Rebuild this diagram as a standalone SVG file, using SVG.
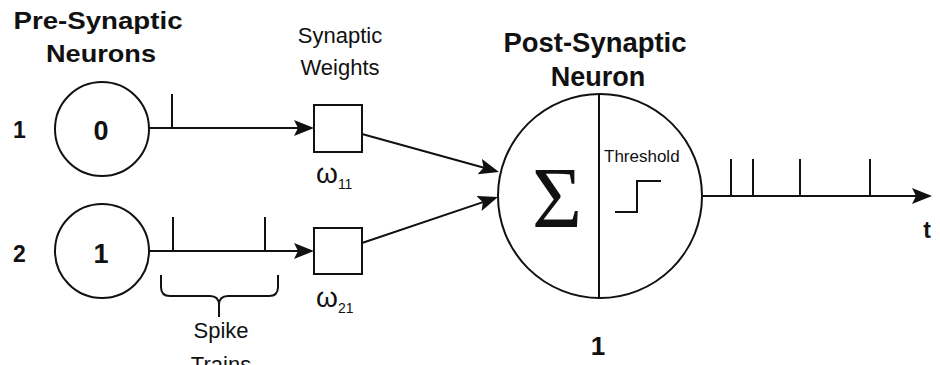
<svg xmlns="http://www.w3.org/2000/svg" width="940" height="365" viewBox="0 0 940 365">
<style>
.s{fill:none;stroke:#111;stroke-width:2}
.n{fill:#fff;stroke:#111;stroke-width:2}
.b{font-family:"Liberation Sans",Arial,sans-serif;font-weight:bold;fill:#111}
.r{font-family:"Liberation Sans",Arial,sans-serif;fill:#111}
.m{text-anchor:middle}
.sig{font-family:"Liberation Serif","Times New Roman","DejaVu Serif",serif;font-weight:normal;fill:#111;text-anchor:middle}
</style>
<defs>
<marker id="arr" markerUnits="userSpaceOnUse" markerWidth="22" markerHeight="18" refX="12" refY="8" orient="auto" viewBox="0 0 22 18">
<path d="M0,0 L20,8 L0,16 L4,8 Z" fill="#111"/>
</marker>
</defs>
<rect width="940" height="365" fill="#fff"/>

<g id="titles">
<text class="b m" x="98" y="29" font-size="24" textLength="169" lengthAdjust="spacingAndGlyphs">Pre-Synaptic</text>
<text class="b m" x="101" y="62" font-size="24" textLength="110" lengthAdjust="spacingAndGlyphs">Neurons</text>
<text class="r m" x="340" y="43" font-size="22">Synaptic</text>
<text class="r m" x="340" y="75" font-size="22">Weights</text>
<text class="b m" x="595" y="52" font-size="27" textLength="183" lengthAdjust="spacingAndGlyphs">Post-Synaptic</text>
<text class="b m" x="598" y="86" font-size="27">Neuron</text>
</g>

<g id="pre1">
<text class="b" x="13" y="138" font-size="23">1</text>
<circle class="n" cx="102" cy="129" r="47"/>
<text class="b m" x="101" y="140" font-size="27">0</text>
</g>

<g id="pre2">
<text class="b" x="13" y="262" font-size="23">2</text>
<circle class="n" cx="102" cy="251" r="47"/>
<text class="b m" x="101" y="263" font-size="27">1</text>
</g>

<g id="w11">
<rect class="n" x="314" y="105" width="48" height="47"/>
<text class="r" x="316" y="183" font-size="28">ω<tspan font-size="14" dy="6">11</tspan></text>
</g>

<g id="w21">
<rect class="n" x="314" y="228" width="48" height="46"/>
<text class="r" x="316" y="307" font-size="28">ω<tspan font-size="14" dy="6">21</tspan></text>
</g>

<g id="post">
<circle class="n" cx="600" cy="196" r="102"/>
<line class="s" x1="599" y1="94" x2="599" y2="298"/>
<text class="sig" x="557" y="227" font-size="86">Σ</text>
<text class="r" x="604" y="162" font-size="17">Threshold</text>
<path class="s" d="M615,212 H637 V181 H661"/>
<text class="b m" x="598" y="355" font-size="26">1</text>
</g>

<g id="connectors">
<line class="s" x1="149" y1="128" x2="306" y2="128" marker-end="url(#arr)"/>
<line class="s" x1="172" y1="94" x2="172" y2="128"/>
<line class="s" x1="149" y1="251" x2="306" y2="251" marker-end="url(#arr)"/>
<line class="s" x1="173" y1="217" x2="173" y2="251"/>
<line class="s" x1="265" y1="217" x2="265" y2="251"/>
<line class="s" x1="362" y1="134" x2="491.3" y2="169.8" marker-end="url(#arr)"/>
<line class="s" x1="362" y1="243" x2="490.4" y2="199.6" marker-end="url(#arr)"/>
<line class="s" x1="702" y1="196" x2="924" y2="196" marker-end="url(#arr)"/>
<line class="s" x1="731" y1="159" x2="731" y2="196"/>
<line class="s" x1="753" y1="159" x2="753" y2="196"/>
<line class="s" x1="800" y1="159" x2="800" y2="196"/>
<line class="s" x1="870" y1="159" x2="870" y2="196"/>
</g>

<g id="brace">
<path class="s" d="M161,275 V287 Q161,296 170,296 H210 Q219,296 219,305 V317 M219,305 Q219,296 228,296 H269 Q278,296 278,287 V275"/>
<text class="r m" x="221" y="338" font-size="22">Spike</text>
<text class="r m" x="221" y="372" font-size="22">Trains</text>
</g>

<g id="axis">
<text class="b m" x="927" y="238" font-size="23">t</text>
</g>
</svg>
